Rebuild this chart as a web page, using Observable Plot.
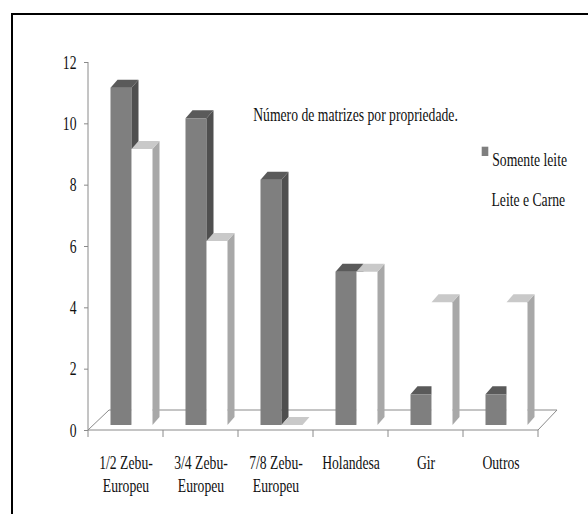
<!DOCTYPE html>
<html><head><meta charset="utf-8">
<script src="https://cdn.jsdelivr.net/npm/d3@7"></script>
<script src="https://cdn.jsdelivr.net/npm/@observablehq/plot@0.6"></script>
<style>
html,body{margin:0;padding:0;background:#fff;overflow:hidden;}
#wrap{position:relative;width:588px;height:514px;overflow:hidden;background:#fff;}
#frame{position:absolute;left:11px;top:13px;width:700px;height:700px;border-left:2px solid #000;border-top:2px solid #000;pointer-events:none;}
#chart{position:absolute;left:0;top:0;}
</style></head><body>
<div id="wrap"><div id="chart"></div><div id="frame"></div></div>
<script>
// ---- data ----
const categories = ["1/2 Zebu-\nEuropeu", "3/4 Zebu-\nEuropeu", "7/8 Zebu-\nEuropeu", "Holandesa", "Gir", "Outros"];
const somenteLeite = [11, 10, 8, 5, 1, 1];
const leiteECarne = [9, 6, 0, 5, 4, 4];
const seriesNames = ["Somente leite", "Leite e Carne"];
const yTicks = [0, 2, 4, 6, 8, 10, 12];
const chartTitle = "Número de matrizes por propriedade.";

const rows = categories.map((c, i) => ({categoria: c, somente: somenteLeite[i], carne: leiteECarne[i]}));

// ---- style ----
const DX = 7, DY = 8, LIFT = 5;
const dark = {front: "#7f7f7f", top: "#5a5a5a", side: "#4f4f4f"};
const light = {front: "#ffffff", top: "#c9c9c9", side: "#a8a8a8"};
const axisGray = "#8a8a8a";
const textColor = "#111";
const TEXT_SQUEEZE = 0.72;

function bars3d(index, scales, values, dims) {
  const x = scales.x, y = scales.y;
  const bw = x.bandwidth ? x.bandwidth() : (dims.width - dims.marginLeft - dims.marginRight) / categories.length;
  const g = d3.create("svg:g");
  const xa = dims.marginLeft, xb = dims.width - dims.marginRight;
  const y0 = y(0);
  // floor
  g.append("path")
    .attr("d", `M${xa},${y0}L${xa + 21},${y0 - 20}L${xb + 19},${y0 - 20}L${xb},${y0}`)
    .attr("fill", "none").attr("stroke", axisGray);
  // y axis line
  g.append("line").attr("x1", xa).attr("x2", xa).attr("y1", y(12)).attr("y2", y0).attr("stroke", axisGray);
  // x axis line + boundary ticks
  g.append("line").attr("x1", xa).attr("x2", xb).attr("y1", y0).attr("y2", y0).attr("stroke", axisGray);
  const bounds = categories.map(c => x(c)).concat([x(categories[categories.length - 1]) + bw]);
  for (const b of bounds) g.append("line").attr("x1", b).attr("x2", b).attr("y1", y0).attr("y2", y0 + 7).attr("stroke", axisGray);

  function box(left, w, v, sh) {
    const base = y0 - LIFT, top = y(v) - LIFT;
    if (base - top > 0) {
      g.append("rect").attr("x", left).attr("y", top).attr("width", w).attr("height", base - top).attr("fill", sh.front);
      g.append("path").attr("d", `M${left + w},${top}L${left + w + DX},${top - DY}L${left + w + DX},${base - DY}L${left + w},${base}Z`).attr("fill", sh.side);
    }
    g.append("path").attr("d", `M${left},${top}L${left + DX},${top - DY}L${left + w + DX},${top - DY}L${left + w},${top}Z`).attr("fill", sh.top);
  }
  for (const r of rows) {
    const bx = x(r.categoria);
    const w = bw * 0.28;
    box(bx + bw * 0.3, w, r.somente, dark);
    box(bx + bw * 0.3 + w, w, r.carne, light);
  }
  // legend swatch
  g.append("rect").attr("x", xa + 393.7).attr("y", y(12) + 84.7).attr("width", 6.6).attr("height", 9.3).attr("fill", dark.front);
  return g.node();
}

const plot = Plot.plot({
  width: 588,
  height: 514,
  marginLeft: 88,
  marginRight: 50,
  marginTop: 62,
  marginBottom: 84,
  style: {fontFamily: "'Liberation Serif', 'Times New Roman', serif", fontSize: "19px", color: textColor, background: "transparent"},
  x: {type: "band", domain: categories, padding: 0},
  y: {domain: [0, 12]},
  marks: [
    bars3d,
    Plot.axisY({ticks: yTicks, tickSize: 4, tickPadding: 8, stroke: axisGray, fill: textColor, label: null}),
    Plot.axisX({tickSize: 0, tickPadding: 22, lineHeight: 1.23, fill: textColor, label: null}),
    Plot.text([chartTitle], {text: d => d, frameAnchor: "top-left", textAnchor: "start", dx: 164.7, dy: 45.2, fill: textColor}),
    Plot.text([seriesNames[0]], {text: d => d, frameAnchor: "top-left", textAnchor: "start", dx: 403.7, dy: 90.2, fill: textColor}),
    Plot.text([seriesNames[1]], {text: d => d, frameAnchor: "top-left", textAnchor: "start", dx: 403, dy: 130.2, fill: textColor})
  ]
});
// condensed look of the original lettering: squeeze each text horizontally around its anchor
d3.select(plot).selectAll("text").each(function() {
  const t = this.getAttribute("transform") || "";
  this.setAttribute("transform", `${t} scale(${TEXT_SQUEEZE},1)`);
});
document.getElementById("chart").appendChild(plot);
</script>
</body></html>
